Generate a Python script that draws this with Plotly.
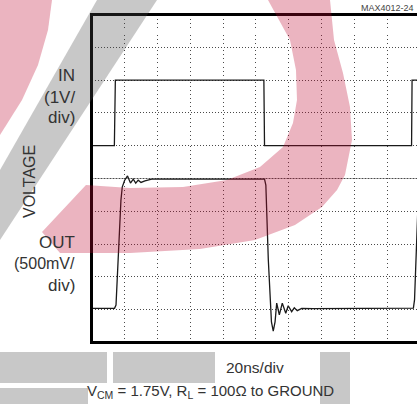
import plotly.graph_objects as go

W, H = 417, 404

# ---------------- data (time in ns, amplitude in graticule divisions) ----------------
in_time = [0, 13.9, 14.5, 104.8, 105.2, 194.6, 194.9, 198.5]
in_level = [6.0, 6.0, 8.0, 8.0, 6.0, 6.0, 8.0, 8.0]

out_time = [0, 14.0, 14.9, 15.8, 16.9, 17.9, 18.7, 20.1, 21.9, 23.7, 25.4, 26.9, 28.4,
            30.1, 32.5, 36.6, 66.0, 105.2, 106.0, 107.5, 109.4, 110.5, 111.6, 112.6,
            114.2, 116.0, 118.1, 119.6, 121.7, 123.3, 125.1, 127.8, 134.7, 163.2,
            195.7, 196.4, 197.1, 197.7, 198.5]
out_level = [1.04, 1.04, 1.14, 2.21, 3.43, 4.34, 4.74, 4.94, 5.08, 4.86, 4.98, 4.86, 4.95,
             4.88, 4.93, 4.98, 4.98, 4.98, 4.80, 2.52, 0.63, 0.35, 0.63, 1.20,
             0.84, 1.20, 0.89, 1.12, 0.94, 1.06, 0.97, 1.04, 1.03, 1.04,
             1.05, 1.30, 2.21, 3.13, 4.19]

time_ticks = [0, 20, 40, 60, 80, 100, 120, 140, 160, 180, 200]
div_ticks = [0, 1, 2, 3, 4, 5, 6, 7, 8, 9, 10]

x_range = [0, 197.9]
y_range = [0, 10]

FONT = "Liberation Sans, Arial, Helvetica, sans-serif"
TXT = "#333333"


def px(x, y):
    return x / W, 1 - y / H


def poly(points):
    s = ""
    for i, (x, y) in enumerate(points):
        a, b = px(x, y)
        s += ("M" if i == 0 else "L") + f"{a:.4f},{b:.4f} "
    return s + "Z"


fig = go.Figure()
fig.add_trace(go.Scatter(x=in_time, y=in_level, mode="lines",
                         line=dict(color="#1a1a1a", width=1.3), hoverinfo="skip"))
fig.add_trace(go.Scatter(x=out_time, y=out_level, mode="lines",
                         line=dict(color="#1a1a1a", width=1.3), hoverinfo="skip"))

left, right = 91.5, 417
top, bottom = 14.5, 342.5

shapes = []
# dense centre graticule line
shapes.append(dict(type="line", xref="x", yref="y", x0=x_range[0], x1=x_range[1], y0=5, y1=5,
                   line=dict(color="#555555", width=1, dash="2px,1px"), layer="below"))
# frame
for (x0, y0, x1, y1) in [(left, top - 1.5, left, bottom + 1.5),
                         (left - 1.5, top, right, top),
                         (left - 1.5, bottom, right, bottom)]:
    a0, b0 = px(x0, y0)
    a1, b1 = px(x1, y1)
    shapes.append(dict(type="line", xref="paper", yref="paper", x0=a0, y0=b0, x1=a1, y1=b1,
                       line=dict(color="#000000", width=3), layer="above"))

# watermark
pink = "rgb(188,8,45)"
gray = "rgb(72,72,72)"
wm_op = 0.3
pink_arc = [(268, 0), (330, 0), (334, 40), (343, 73), (350, 107), (352, 140), (345, 175),
            (337, 190), (322, 207), (295, 225), (255, 240), (200, 249), (130, 253), (60, 253),
            (42, 232), (86, 185), (130, 188), (183, 187), (227, 180), (260, 167), (283, 147),
            (293, 123), (297, 100), (296, 70), (290, 40)]
pink_corner = [(0, 0), (52, 0), (48, 30), (38, 65), (22, 100), (0, 135)]
gray_band = [(97, 0), (157, 0), (0, 240), (0, 170)]
for pts, col in [(pink_arc, pink), (pink_corner, pink), (gray_band, gray)]:
    shapes.append(dict(type="path", xref="paper", yref="paper", path=poly(pts),
                       fillcolor=col, opacity=wm_op, line=dict(width=0), layer="above"))
for (x0, y0, x1, y1) in [(0, 352, 107, 383), (113, 352, 215, 383), (320, 352, 350, 404),
                         (0, 388, 88, 404)]:
    a0, b0 = px(x0, y0)
    a1, b1 = px(x1, y1)
    shapes.append(dict(type="rect", xref="paper", yref="paper", x0=a0, y0=b0, x1=a1, y1=b1,
                       fillcolor=gray, opacity=wm_op, line=dict(width=0), layer="above"))

annotations = []


def label(text, x, y, size=16, xanchor="right", angle=0, color=TXT):
    a, b = px(x, y)
    annotations.append(dict(text=text, x=a, y=b, xref="paper", yref="paper",
                            xanchor=xanchor, yanchor="middle", showarrow=False,
                            textangle=angle, font=dict(family=FONT, size=size, color=color)))


label("IN", 77, 76, size=17)
label("(1V/", 77, 97, size=17)
label("div)", 77, 117, size=17)
label("OUT", 77, 242, size=17)
label("(500mV/", 77, 263, size=16)
label("div)", 77, 285, size=17)
label("VOLTAGE", 30, 182, size=16, xanchor="center", angle=-90)
label("20ns/div", 255.5, 367, size=15.5, xanchor="center")
label("V<sub>CM</sub> = 1.75V, R<sub>L</sub> = 100Ω to GROUND", 211, 391, size=15,
      xanchor="center")
label("MAX4012-24", 416, 8, size=9, xanchor="right", color="#444444")

grid_x = dict(showgrid=True, gridcolor="#4a4a4a", gridwidth=1, griddash="1px,3px")
grid_y = dict(showgrid=True, gridcolor="#4a4a4a", gridwidth=1, griddash="1px,2px")

fig.update_layout(
    width=W, height=H,
    margin=dict(l=0, r=0, t=0, b=0, pad=0),
    paper_bgcolor="white", plot_bgcolor="rgba(0,0,0,0)",
    showlegend=False,
    xaxis=dict(domain=[left / W, 1], range=x_range, tickvals=time_ticks, showticklabels=False,
               ticks="", zeroline=False, showline=False, fixedrange=True, **grid_x),
    yaxis=dict(domain=[1 - bottom / H, 1 - top / H], range=y_range, tickvals=div_ticks,
               showticklabels=False, ticks="", zeroline=False, showline=False,
               fixedrange=True, **grid_y),
    shapes=shapes,
    annotations=annotations,
)

fig.write_html("out.html", config={"displayModeBar": False},
               post_script="document.body.style.margin='0';")
